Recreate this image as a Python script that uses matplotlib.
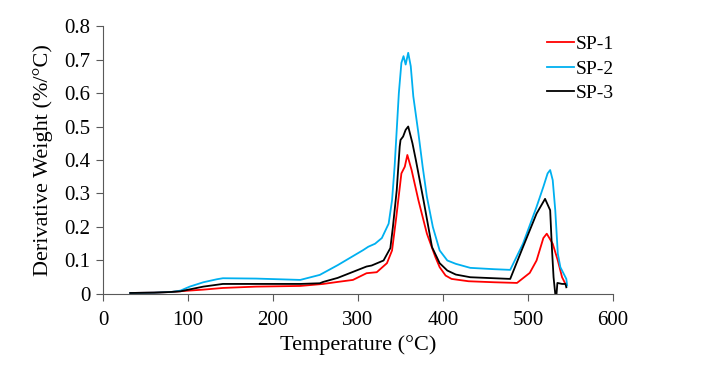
import matplotlib
matplotlib.use("Agg")
import matplotlib.pyplot as plt

plt.rcParams['font.family'] = ['Liberation Serif', 'DejaVu Serif']

# SP-1 (red)
t1 = [32, 60, 80, 95, 118, 141, 180, 232, 259, 276, 294, 310, 322, 334, 340, 345, 351, 355, 358, 363,
      371, 381, 391, 396, 403, 410, 430, 460, 487, 502, 510, 518, 522, 529, 535, 540, 544]
v1 = [0.003, 0.004, 0.006, 0.009, 0.013, 0.018, 0.022, 0.024, 0.030, 0.036, 0.042, 0.062, 0.065, 0.092,
      0.13, 0.23, 0.36, 0.38, 0.415, 0.37, 0.28, 0.18, 0.11, 0.08, 0.055, 0.045, 0.038, 0.035, 0.033,
      0.063, 0.10, 0.167, 0.18, 0.15, 0.10, 0.05, 0.03]

# SP-2 (blue)
t2 = [32, 60, 80, 91, 102, 118, 134, 141, 180, 232, 255, 276, 306, 312, 320, 328, 336, 340, 343, 345.5,
      348, 351, 353.5, 356, 359, 362, 365, 371, 376, 381, 388, 396, 405, 415, 432, 460, 479, 494, 510,
      518, 523, 526, 529, 532, 535, 538, 542, 545, 546]
v2 = [0.003, 0.004, 0.006, 0.010, 0.022, 0.035, 0.044, 0.047, 0.046, 0.042, 0.057, 0.086, 0.131, 0.141,
      0.150, 0.167, 0.21, 0.28, 0.38, 0.49, 0.60, 0.69, 0.71, 0.685, 0.72, 0.68, 0.59, 0.48, 0.38, 0.29,
      0.20, 0.13, 0.10, 0.09, 0.078, 0.074, 0.072, 0.15, 0.26, 0.32, 0.36, 0.37, 0.34, 0.25, 0.12, 0.08,
      0.06, 0.045, 0.025]

# SP-3 (black)
t3 = [32, 60, 80, 91, 118, 141, 232, 255, 259, 276, 310, 316, 330, 338, 341, 345.5, 349, 350, 353, 356,
      359, 361, 364, 368, 377, 387, 396, 405, 415, 432, 460, 479, 494, 510, 520, 526, 528, 530, 532,
      533.5, 534.5, 540, 544, 545]
v3 = [0.003, 0.004, 0.006, 0.008, 0.022, 0.030, 0.030, 0.032, 0.036, 0.048, 0.082, 0.085, 0.10, 0.137,
      0.20, 0.31, 0.44, 0.46, 0.47, 0.49, 0.50, 0.48, 0.45, 0.40, 0.28, 0.14, 0.092, 0.07, 0.058, 0.05,
      0.047, 0.045, 0.14, 0.24, 0.284, 0.25, 0.14, 0.05, 0.0, 0.0, 0.033, 0.03, 0.03, 0.02]

labels = ["SP-1", "SP-2", "SP-3"]
colors = ["#FF0000", "#00B0F0", "#000000"]

fig = plt.figure(figsize=(7.21, 3.69), dpi=100)
ax = fig.add_axes([0.1429, 0.2033, 0.7074, 0.7262])

for t, v, lab, c in zip([t1, t2, t3], [v1, v2, v3], labels, colors):
    ax.plot(t, v, color=c, lw=1.3, label=lab)

ax.set_xlim(0, 600)
ax.set_ylim(0, 0.8)
ax.set_xticks([0, 100, 200, 300, 400, 500, 600])
ax.set_yticks([0, 0.1, 0.2, 0.3, 0.4, 0.5, 0.6, 0.7, 0.8])
ax.set_yticklabels(["0", "0.1", "0.2", "0.3", "0.4", "0.5", "0.6", "0.7", "0.8"])
for s in ["top", "right"]:
    ax.spines[s].set_visible(False)
for s in ["left", "bottom"]:
    ax.spines[s].set_color("#595959")
    ax.spines[s].set_linewidth(0.8)
ax.tick_params(direction="out", length=5, width=0.8, color="#595959", labelsize=15)
ax.tick_params(axis="x", pad=7.5)
ax.tick_params(axis="y", pad=4)
ax.set_xlabel("Temperature (°C)", fontsize=16, labelpad=3.5)
ax.set_ylabel("Derivative Weight (%/°C)", fontsize=16, labelpad=8)

ax.legend(loc="upper right", bbox_to_anchor=(1.037, 1.03), frameon=False, fontsize=14,
          handlelength=1.4, handletextpad=0.1, labelspacing=0.35)

fig.savefig("out.png", dpi=100)
